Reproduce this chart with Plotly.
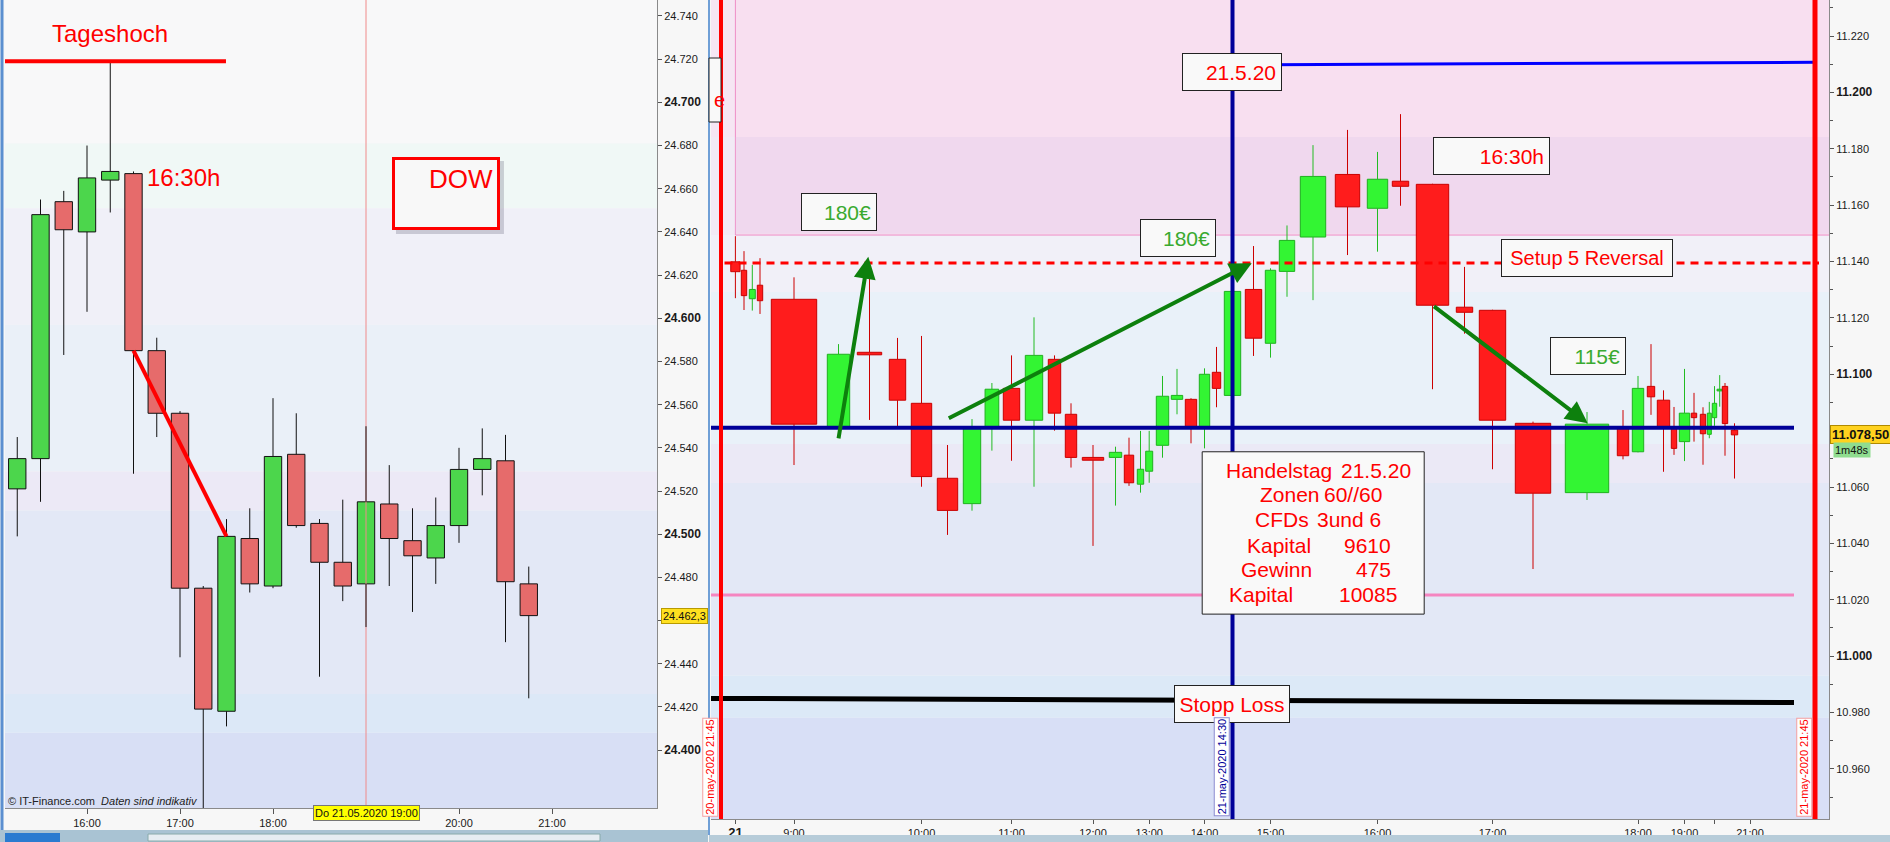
import plotly.graph_objects as go

W, H = 1890, 842
FONT = "Arial"
DAY = "2020-05-21 "

# ---------------- Left panel: DOW, 15-minute candles ----------------
l_time = ["15:15", "15:30", "15:45", "16:00", "16:15", "16:30", "16:45", "17:00",
          "17:15", "17:30", "17:45", "18:00", "18:15", "18:30", "18:45", "19:00",
          "19:15", "19:30", "19:45", "20:00", "20:15", "20:30", "20:45"]
l_open = [24521, 24535, 24654, 24640, 24664, 24667, 24585, 24556, 24475, 24418, 24498, 24476,
          24537, 24505, 24487, 24477, 24514, 24497, 24489, 24504, 24530, 24534, 24477]
l_high = [24545, 24655, 24659, 24680, 24719, 24668, 24591, 24557, 24476, 24507, 24512, 24563,
          24556, 24507, 24516, 24550, 24532, 24512, 24517, 24540, 24549, 24546, 24485]
l_low = [24499, 24515, 24583, 24603, 24649, 24528, 24545, 24443, 24372, 24411, 24473, 24475,
         24503, 24434, 24469, 24457, 24476, 24464, 24477, 24496, 24518, 24450, 24424]
l_close = [24535, 24648, 24641, 24665, 24668, 24585, 24556, 24475, 24419, 24499, 24477, 24536,
           24504, 24487, 24476, 24515, 24498, 24490, 24504, 24530, 24535, 24478, 24462.3]
l_tick_time = ["16:00", "17:00", "18:00", "19:00", "20:00", "21:00"]
l_tick_text = ["16:00", "17:00", "18:00", "", "20:00", "21:00"]

# ---------------- Right panel: 15-minute equivolume candles ----------------
r_time = ["08:00", "08:15", "08:30", "08:45", "09:00", "09:15", "09:30", "09:45",
          "10:00", "10:15", "10:30", "10:45", "11:00", "11:15", "11:30", "11:45",
          "12:00", "12:15", "12:30", "12:45", "13:00", "13:15", "13:30", "13:45",
          "14:00", "14:15", "14:30", "14:45", "15:00", "15:15", "15:30", "15:45",
          "16:00", "16:15", "16:30", "16:45", "17:00", "17:15", "17:30", "17:45",
          "18:00", "18:15", "18:30", "18:45", "19:00", "19:15", "19:30", "19:45",
          "20:00", "20:15", "20:30", "20:45"]
# position on the cumulative-volume axis (candle centre) and candle volume (body width)
r_pos = [24.4, 33.0, 41.3, 49.0, 83.0, 127.5, 158.5, 186.5, 210.5, 236.5, 261.0, 280.9,
         300.5, 323.0, 343.5, 360.0, 382.0, 404.5, 418.0, 429.5, 438.2, 451.5, 466.0, 480.0,
         493.5, 505.5, 521.5, 542.5, 559.5, 576.0, 602.0, 636.5, 666.5, 689.5, 721.5, 753.5,
         781.5, 822.0, 876.0, 912.0, 927.0, 940.0, 952.5, 963.0, 973.5, 983.0, 992.0, 998.3,
         1003.5, 1008.7, 1014.0, 1023.5]
r_vol = [9.3, 5.4, 6.0, 5.4, 45.4, 22.4, 24.4, 16.4, 20.4, 20.4, 17.4, 13.7,
         16.4, 17.4, 12.4, 11.4, 21.4, 12.4, 9.4, 6.4, 7.0, 12.4, 11.4, 11.4,
         10.4, 8.4, 16.4, 16.4, 10.4, 15.4, 25.4, 24.4, 20.4, 16.4, 32.4, 16.4,
         26.4, 35.4, 43.4, 11.4, 11.4, 7.4, 12.4, 5.4, 10.4, 5.4, 5.4, 4.0,
         4.4, 5.3, 5.4, 6.4]
r_open = [11139.9, 11136.9, 11126.8, 11131.6, 11126.6, 11081.4, 11107.8, 11105.3,
          11089.7, 11063.1, 11054.1, 11080.8, 11095.0, 11083.7, 11105.3, 11085.8,
          11070.5, 11070.5, 11071.3, 11061.0, 11065.6, 11074.8, 11091.1, 11091.1,
          11080.8, 11100.7, 11092.5, 11130.1, 11111.0, 11136.5, 11148.7, 11170.9,
          11158.9, 11168.5, 11167.4, 11123.8, 11122.7, 11082.6, 11058.0, 11081.2,
          11072.5, 11095.7, 11090.8, 11081.4, 11076.1, 11086.2, 11085.8, 11078.7,
          11084.6, 11094.1, 11095.7, 11080.2]
r_high = [11149.0, 11143.7, 11138.8, 11141.2, 11134.4, 11110.7, 11137.0, 11112.9,
          11113.6, 11074.9, 11084.1, 11096.9, 11106.7, 11120.2, 11106.7, 11089.7,
          11074.9, 11074.3, 11077.5, 11079.9, 11079.9, 11099.4, 11101.9, 11091.5,
          11102.1, 11109.7, 11129.6, 11145.5, 11137.6, 11152.8, 11181.3, 11186.7,
          11178.9, 11192.3, 11167.6, 11138.1, 11122.9, 11083.2, 11086.6, 11087.3,
          11099.4, 11110.7, 11094.3, 11088.4, 11101.9, 11093.4, 11088.3, 11090.2,
          11095.8, 11099.7, 11096.9, 11082.6]
r_low = [11127.0, 11122.8, 11122.6, 11121.4, 11067.8, 11080.5, 11083.8, 11081.4,
         11060.1, 11043.0, 11051.6, 11072.9, 11069.3, 11060.1, 11080.0, 11066.9,
         11039.1, 11053.4, 11060.4, 11058.0, 11061.5, 11070.4, 11085.8, 11075.5,
         11073.7, 11088.3, 11092.3, 11106.5, 11105.9, 11127.5, 11126.3, 11142.3,
         11143.5, 11159.8, 11094.7, 11114.4, 11066.3, 11030.9, 11055.4, 11069.8,
         11072.3, 11085.6, 11065.4, 11071.4, 11069.2, 11076.1, 11067.9, 11077.3,
         11081.7, 11088.5, 11071.1, 11063.0]
r_close = [11136.4, 11127.9, 11130.1, 11126.1, 11082.3, 11107.1, 11106.9, 11090.8,
           11063.7, 11051.7, 11081.2, 11094.7, 11083.7, 11106.7, 11086.2, 11070.5,
           11069.5, 11072.3, 11061.5, 11066.3, 11072.7, 11092.2, 11092.5, 11080.9,
           11100.0, 11095.0, 11129.4, 11112.8, 11136.9, 11147.5, 11170.2, 11159.4,
           11169.2, 11166.7, 11124.5, 11122.0, 11083.7, 11057.8, 11082.3, 11071.1,
           11095.0, 11092.0, 11081.4, 11073.7, 11086.2, 11084.6, 11078.9, 11086.2,
           11089.7, 11094.3, 11082.5, 11078.5]
r_tick_vals = [24.4, 83.0, 210.5, 300.5, 382.0, 438.2, 493.5, 559.5, 666.5, 781.5,
               927.0, 973.5, 1003.5, 1039.0]
r_tick_text = ['<span style="font-size:13px"><b>21</b></span>', "9:00", "10:00", "11:00",
               "12:00", "13:00", "14:00", "15:00", "16:00", "17:00", "18:00", "19:00", "", "21:00"]

# price levels (right panel)
setup_level = 11139.5
entry_level = 11081.0
target_level = 11021.7
stop_level = [10985.0, 10983.5]
high_level = [11209.8, 11210.7]
r_marker_text = ["20-may-2020 21:45", "21-may-2020 14:30", "21-may-2020 21:45"]
r_marker_pos = [10.0, r_pos[r_time.index("14:30")], 1104.0]

# summary box
box_labels = ["Handelstag", "Zonen", "CFDs", "Kapital", "Gewinn", "Kapital"]
box_values = ["21.5.20", "60//60", "3und 6", "9610", "475", "10085"]

L_X = [DAY + "15:07:06", DAY + "22:07:44"]
L_Y = [24373.2, 24747.4]
R_X = [0, 1118]
R_Y = [10942.2, 11232.8]


def de(v, d=0):
    s = f"{v:,.{d}f}"
    return s.replace(",", "X").replace(".", ",").replace("X", ".")


fig = go.Figure()


def add_candles(x, o, h, l, c, width, xa, ya, fill_up, fill_dn, edge_up, edge_dn,
                wick_up, wick_dn, min_body):
    up = [ci >= oi for oi, ci in zip(o, c)]
    lo_b = [min(a, b) for a, b in zip(o, c)]
    hi_b = [max(a, b) for a, b in zip(o, c)]
    fig.add_trace(go.Bar(
        x=x, y=[max(hb - lb, min_body) for hb, lb in zip(hi_b, lo_b)], base=lo_b, width=width,
        marker=dict(color=[fill_up if u else fill_dn for u in up],
                    line=dict(color=[edge_up if u else edge_dn for u in up], width=1)),
        xaxis=xa, yaxis=ya, hoverinfo="skip"))
    for flag, col in ((True, wick_up), (False, wick_dn)):
        wx, wy = [], []
        for xi, u, hh, ll, hb, lb in zip(x, up, h, l, hi_b, lo_b):
            if u != flag:
                continue
            wx += [xi, xi, None, xi, xi, None]
            wy += [hh, hb, None, lb, ll, None]
        fig.add_trace(go.Scatter(x=wx, y=wy, mode="lines", line=dict(color=col, width=1),
                                 xaxis=xa, yaxis=ya, hoverinfo="skip"))


def line(x, y, color, width, xa="x2", ya="y2", dash=None):
    fig.add_trace(go.Scatter(x=x, y=y, mode="lines",
                             line=dict(color=color, width=width, dash=dash),
                             xaxis=xa, yaxis=ya, hoverinfo="skip"))


# ---------- left panel ----------
l_x = [DAY + t for t in l_time]
line([DAY + "19:00", DAY + "19:00"], L_Y, "#f08a8a", 1, "x", "y")
add_candles(l_x, l_open, l_high, l_low, l_close, 672000, "x", "y",
            "#4cd64c", "#e66b6b", "#111", "#111", "#111", "#111", 1)
line([L_X[0], DAY + "17:29:40"], [max(l_high)] * 2, "#ff0000", 4, "x", "y")
line([DAY + "16:30", DAY + "17:30"], [l_close[5], l_close[9]], "#ff0000", 4, "x", "y")

# ---------- right panel ----------
line([0, 1083], stop_level, "#000000", 5)
line([0, 1083], [target_level] * 2, "#f585c0", 3)
add_candles(r_pos, r_open, r_high, r_low, r_close, r_vol, "x2", "y2",
            "#33f533", "#ff1c1c", "#1fb01f", "#c80000", "#22bb22", "#cc0000", 0.6)
line([0, 1083], [entry_level] * 2, "#000099", 4)
line([13.5, 1108], [setup_level] * 2, "#ff0000", 3, dash="8px,6px")
line([r_marker_pos[1], r_marker_pos[2]], high_level, "#0000ff", 3)
for pos, col, wd in zip(r_marker_pos, ["#ff0000", "#000099", "#ff0000"], [4, 4, 5]):
    line([pos, pos], R_Y, col, wd)

# ---------- background bands ----------
shapes = []
l_bands = [(24681, L_Y[1], "#f8f8f9"), (24651, 24681, "#f0f8f6"), (24597, 24651, "#f0f0f8"),
           (24529, 24597, "#eaf0f8"), (24511, 24529, "#ece9f6"), (24426, 24511, "#e3e8f6"),
           (24408, 24426, "#dce8f7"), (L_Y[0], 24408, "#d8dff5")]
for y0, y1, col in l_bands:
    shapes.append(dict(type="rect", xref="x domain", yref="y", x0=0, x1=1, y0=y0, y1=y1,
                       fillcolor=col, line=dict(width=0), layer="below"))
r_bands = [(11184.2, R_Y[1], "#f6e6f3"), (11149.4, 11184.2, "#f2eaf5"), (11129.2, 11149.4, "#f1f0f8"),
           (11075.3, 11129.2, "#e9f1f9"), (11061.4, 11075.3, "#ebe9f6"), (10993, 11061.4, "#e3e8f6"),
           (10978.1, 10993, "#dce9f7"), (R_Y[0], 10978.1, "#d8dff6")]
for y0, y1, col in r_bands:
    shapes.append(dict(type="rect", xref="x2 domain", yref="y2", x0=0, x1=1, y0=y0, y1=y1,
                       fillcolor=col, line=dict(width=0), layer="below"))
# pink zone
shapes.append(dict(type="rect", xref="x2", yref="y2", x0=r_pos[0], x1=R_X[1] + 5, y0=11149.4, y1=R_Y[1] + 5,
                   fillcolor="#f8dff0", line=dict(color="#ee8ec6", width=1), layer="below"))
shapes.append(dict(type="rect", xref="x2", yref="y2", x0=r_pos[0] + 0.5, x1=R_X[1] + 5, y0=11149.9, y1=11184.2,
                   fillcolor="#f0d8ee", line=dict(width=0), layer="below"))
# summary box
shapes.append(dict(type="rect", xref="x2", yref="y2", x0=491.2, x1=713.2, y0=11014.9, y1=11072.5,
                   fillcolor="#f9f9f9", line=dict(color="#222", width=1), layer="above"))
# DOW box shadow (offset a few px right/down of the box)
shapes.append(dict(type="rect", xref="x", yref="y", x0=DAY + "19:19:20", x1=DAY + "20:29:00",
                   y0=24639.0, y1=24672.8, fillcolor="rgba(110,110,130,0.30)",
                   line=dict(width=0), layer="above"))
# frame pieces / toolbar
shapes += [
    dict(type="rect", xref="paper", yref="paper", x0=0, x1=708 / W, y0=0, y1=12 / H,
         fillcolor="#a9c3d3", line=dict(width=0)),
    dict(type="rect", xref="paper", yref="paper", x0=709 / W, x1=1, y0=0, y1=7 / H,
         fillcolor="#b7ccd9", line=dict(width=0)),
    dict(type="rect", xref="paper", yref="paper", x0=5 / W, x1=60 / W, y0=0, y1=9 / H,
         fillcolor="#2a7bd0", line=dict(width=0)),
    dict(type="rect", xref="paper", yref="paper", x0=148 / W, x1=600 / W, y0=1 / H, y1=8 / H,
         fillcolor="#e6edf2", line=dict(color="#8aa", width=1)),
    dict(type="line", xref="paper", yref="paper", x0=709 / W, x1=709 / W, y0=7 / H, y1=1,
         line=dict(color="#6f9fd6", width=2)),
    dict(type="line", xref="paper", yref="paper", x0=2 / W, x1=2 / W, y0=12 / H, y1=1,
         line=dict(color="#5b8fd0", width=3)),
    dict(type="rect", xref="paper", yref="paper", x0=709 / W, x1=721 / W, y0=1 - 122 / H, y1=1 - 58 / H,
         fillcolor="#f9f9f9", line=dict(color="#222", width=1)),
]

ann = []


def box(x, y, text, w, h, color, align="right", size=21, xref="x2", yref="y2"):
    bw, bp = 1, 5
    ann.append(dict(x=x, y=y, xref=xref, yref=yref, text=text, showarrow=False,
                    font=dict(family=FONT, size=size, color=color), bgcolor="#f9f9f9",
                    bordercolor="#222", borderwidth=bw, borderpad=bp,
                    width=w - 2 * (bw + bp), height=h - 2 * (bw + bp), align=align,
                    valign="middle", xanchor="center", yanchor="middle"))


GREEN_T = "#3aaa30"
box(521.4, 11207.2, "21.5.20", 100, 38, "#ff0000")
box(127.6, 11157.5, "180€", 76, 38, GREEN_T)
box(466.5, 11148.2, "180€", 76, 38, GREEN_T)
box(780.8, 11177.3, "16:30h", 117, 38, "#ff0000")
box(876.3, 11141.4, "Setup 5 Reversal", 172, 38, "#ff0000", align="center", size=20)
box(876.5, 11106.4, "115€", 76, 38, GREEN_T)
box(521.4, 10982.9, "Stopp Loss", 116, 38, "#ff0000", align="center")

lab_x = [514.1, 547.7, 543.4, 534.7, 528.7, 516.9]
val_x = [701.1, 671.8, 671.0, 681.2, 681.2, 686.8]
row_y = [11066.0, 11057.2, 11048.3, 11039.4, 11030.6, 11021.7]
for lx, vx, ry, lt, vt in zip(lab_x, val_x, row_y, box_labels, box_values):
    ann.append(dict(x=lx, y=ry, xref="x2", yref="y2", text=lt, showarrow=False, xanchor="left",
                    yanchor="middle", font=dict(family=FONT, size=21, color="#ff0000"), borderpad=0))
    ann.append(dict(x=vx, y=ry, xref="x2", yref="y2", text=vt, showarrow=False, xanchor="right",
                    yanchor="middle", font=dict(family=FONT, size=21, color="#ff0000"), borderpad=0))

# arrows
for (tx, ty), (hx, hy) in [((127.3, 11076.7), (157.3, 11141.7)),
                           ((236.3, 11084.1), (540.7, 11139.4)),
                           ((721.5, 11124.5), (876.7, 11082.6))]:
    ann.append(dict(x=hx, y=hy, ax=tx, ay=ty, xref="x2", yref="y2", axref="x2", ayref="y2",
                    text="", showarrow=True, arrowhead=2, arrowsize=1.1, arrowwidth=4,
                    arrowcolor="#0d800d", standoff=0))

# rotated date labels
for pos, txt, col, bc in zip(r_marker_pos, r_marker_text, ["#ff0000", "#000099", "#ff0000"],
                             ["#f4a0a0", "#8c8cd0", "#f4a0a0"]):
    ann.append(dict(x=pos - 2.5, y=R_Y[0] + 0.8, xref="x2", yref="y2", text=txt, textangle=-90,
                    showarrow=False, xanchor="right", yanchor="bottom",
                    font=dict(family=FONT, size=11, color=col), bgcolor="#ffffff",
                    bordercolor=bc, borderwidth=1, borderpad=1))

# current prices
ann.append(dict(x=1830 / W, y=r_close[-1], xref="paper", yref="y2", text="<b>" + de(r_close[-1], 2) + "</b>",
                showarrow=False, xanchor="left", yanchor="middle", bgcolor="#ffd21f",
                bordercolor="#b08a00", borderwidth=1, borderpad=1,
                font=dict(family=FONT, size=13, color="#111")))
ann.append(dict(x=1833 / W, y=r_close[-1] - 5.4, xref="paper", yref="y2", text="1m48s",
                showarrow=False, xanchor="left", yanchor="middle", bgcolor="#8fdc8f",
                borderpad=1, font=dict(family=FONT, size=11, color="#111")))
ann.append(dict(x=661 / W, y=l_close[-1], xref="paper", yref="y", text=de(l_close[-1], 1),
                showarrow=False, xanchor="left", yanchor="middle", bgcolor="#ffe020",
                bordercolor="#b89a00", borderwidth=1, borderpad=1,
                font=dict(family=FONT, size=11, color="#111")))

# left panel texts
ann.append(dict(x=DAY + "16:14:50", y=24732, xref="x", yref="y", text="Tageshoch", showarrow=False,
                font=dict(family=FONT, size=24, color="#ff0000")))
ann.append(dict(x=DAY + "16:37:25", y=24665, xref="x", yref="y", text="16:30h", showarrow=False,
                xanchor="left", font=dict(family=FONT, size=24, color="#ff0000")))
ann.append(dict(x=DAY + "19:51:37", y=24657.8, xref="x", yref="y", text="DOW", showarrow=False,
                font=dict(family=FONT, size=26, color="#ff0000"), bgcolor="#f8f8f8",
                bordercolor="#ff0000", borderwidth=3, borderpad=4, width=94, height=59,
                align="right", valign="top"))
ann.append(dict(x=DAY + "19:00", y=1 - 821 / H, xref="x", yref="paper", text="Do 21.05.2020 19:00",
                showarrow=False, bgcolor="#ffff00", bordercolor="#777", borderwidth=1, borderpad=1,
                font=dict(family=FONT, size=11, color="#111")))
ann.append(dict(x=6 / W, y=1 - 801 / H, xref="paper", yref="paper",
                text="© IT-Finance.com  <i>Daten sind indikativ</i>", showarrow=False,
                xanchor="left", yanchor="middle", font=dict(family=FONT, size=11, color="#222")))
ann.append(dict(x=712 / W, y=1 - 100 / H, xref="paper", yref="paper", text="e", showarrow=False,
                xanchor="left", yanchor="middle", font=dict(family=FONT, size=20, color="#ff0000")))


def ytext(v, hidden=()):
    if v in hidden:
        return ""
    if v % 100 == 0:
        return '<span style="font-size:12px"><b>' + de(v) + "</b></span>"
    return de(v)


l_yt = list(range(24400, 24741, 20))
r_yt = list(range(10960, 11221, 20))
axis_common = dict(showgrid=False, zeroline=False, showline=True, linecolor="#8a8a8a",
                   ticks="outside", tickcolor="#555", tickfont=dict(family=FONT, size=11, color="#1a1a1a"),
                   fixedrange=True)

fig.update_layout(
    width=W, height=H, margin=dict(l=0, r=0, t=0, b=0),
    paper_bgcolor="#f7f7f7", plot_bgcolor="rgba(0,0,0,0)",
    separators=",.", showlegend=False, barmode="overlay",
    font=dict(family=FONT, size=11, color="#222"),
    xaxis=dict(domain=[5 / W, 657 / W], type="date", range=L_X, anchor="y",
               tickvals=[DAY + t for t in l_tick_time], ticktext=l_tick_text, ticklen=5,
               **axis_common),
    yaxis=dict(domain=[1 - 808 / H, 1], side="right", range=L_Y, anchor="x",
               tickvals=l_yt, ticktext=[ytext(v, (24460,)) for v in l_yt], ticklen=4, **axis_common),
    xaxis2=dict(domain=[711 / W, 1829 / W], range=R_X, anchor="y2",
                tickvals=r_tick_vals, ticktext=r_tick_text, ticklen=4, **axis_common),
    yaxis2=dict(domain=[1 - 819 / H, 1], side="right", range=R_Y, anchor="x2",
                tickvals=r_yt, ticktext=[ytext(v, (11080,)) for v in r_yt], ticklen=4,
                minor=dict(dtick=10, tick0=10950, ticks="outside", ticklen=3, tickcolor="#555",
                           showgrid=False),
                **axis_common),
    shapes=shapes, annotations=ann,
)

fig.write_html("out.html", config={"displayModeBar": False},
               post_script="document.body.style.margin='0';document.body.style.overflow='hidden';")
